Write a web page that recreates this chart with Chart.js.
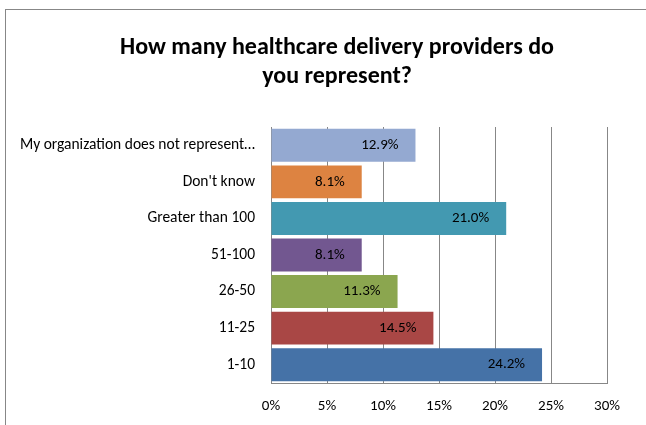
<!DOCTYPE html>
<html>
<head>
<meta charset="utf-8">
<script src="https://cdn.jsdelivr.net/npm/chart.js@4/dist/chart.umd.min.js"></script>
<style>
    html, body { margin: 0; padding: 0; background: #ffffff; overflow: hidden; }
    body { width: 646px; height: 425px; position: relative; }
    #frame {
        position: absolute;
        left: 5px;
        top: 9px;
        border-left: 1px solid #878787;
        border-top: 1px solid #878787;
        background: #ffffff;
    }
    #chart { display: block; }
</style>
</head>
<body>
<div id="frame">
    <canvas id="chart" width="662" height="430"></canvas>
</div>
<script>
// Chart data
const categories = [
    'My organization does not represent\u2026',
    "Don't know",
    'Greater than 100',
    '51-100',
    '26-50',
    '11-25',
    '1-10'
];
const shares = [12.9, 8.1, 21.0, 8.1, 11.3, 14.5, 24.2];
const barColors = ['#94a9d1', '#dd8341', '#4399b1', '#725790', '#8ba64f', '#a94745', '#4572a7'];
const xTicks = [0, 5, 10, 15, 20, 25, 30];

const fontFamily = 'Carlito, Calibri, Lato, sans-serif';
const gridColor = '#878787';

// draws the value labels near the end of each bar
const valueLabels = {
    id: 'valueLabels',
    afterDatasetsDraw(chart) {
        const ctx = chart.ctx;
        const meta = chart.getDatasetMeta(0);
        ctx.save();
        ctx.font = '15px ' + fontFamily;
        ctx.fillStyle = '#000000';
        ctx.textAlign = 'right';
        ctx.textBaseline = 'middle';
        meta.data.forEach((bar, i) => {
            ctx.fillText(shares[i].toFixed(1) + '%', bar.x - 17, bar.y);
        });
        ctx.restore();
    }
};

const ctx = document.getElementById('chart').getContext('2d');
const chart = new Chart(ctx, {
    type: 'bar',
    data: {
        labels: categories,
        datasets: [{
            data: shares,
            backgroundColor: barColors,
            borderWidth: 0,
            categoryPercentage: 1.0,
            barPercentage: 0.9
        }]
    },
    options: {
        indexAxis: 'y',
        responsive: false,
        animation: false,
        devicePixelRatio: 1,
        layout: {
            padding: 0
        },
        plugins: {
            legend: { display: false },
            tooltip: { enabled: false },
            title: {
                display: true,
                text: ['How many healthcare delivery providers do', 'you represent?'],
                color: '#000000',
                font: { family: fontFamily, size: 24, weight: 'bold', lineHeight: 29 / 24 },
                padding: { top: 23, bottom: 36 }
            }
        },
        scales: {
            x: {
                min: 0,
                max: 30,
                afterBuildTicks: (scale) => {
                    scale.ticks = xTicks.map(v => ({ value: v }));
                },
                afterFit: (scale) => {
                    scale.height = 57;
                },
                ticks: {
                    callback: (v) => v + '%',
                    color: '#000000',
                    font: { family: fontFamily, size: 15 },
                    padding: 14,
                    maxRotation: 0
                },
                grid: {
                    color: gridColor,
                    drawTicks: false
                },
                border: { display: true, color: gridColor }
            },
            y: {
                afterFit: (scale) => {
                    scale.width = 265;
                },
                ticks: {
                    color: '#000000',
                    font: { family: fontFamily, size: 15.5 },
                    padding: 16
                },
                grid: { display: false, drawTicks: false },
                border: { display: true, color: gridColor }
            },
            // empty right-hand axis, only keeps white space right of the plot
            yRight: {
                type: 'category',
                position: 'right',
                afterFit: (scale) => {
                    scale.width = 61;
                },
                ticks: { display: false },
                grid: { display: false, drawTicks: false },
                border: { display: false }
            }
        }
    },
    plugins: [valueLabels]
});
</script>
</body>
</html>
